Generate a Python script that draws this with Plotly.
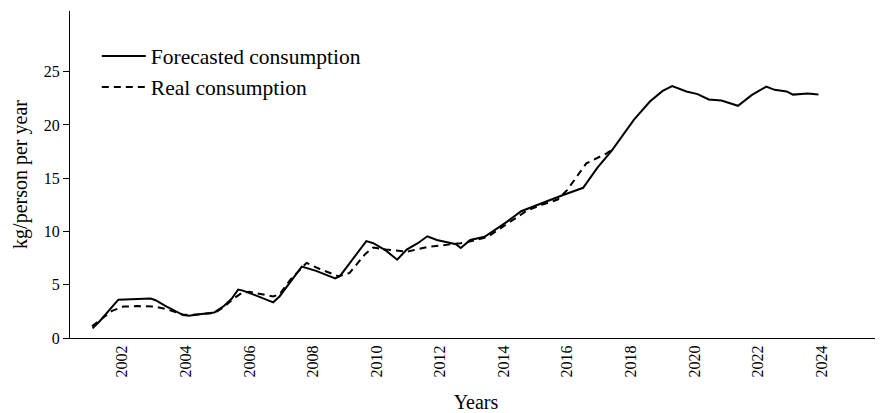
import plotly.graph_objects as go

forecast_years = [2001.07, 2001.3, 2001.88, 2002.5, 2002.9, 2003.05, 2003.4, 2003.92, 2004.1, 2004.5,
                  2004.9, 2005.2, 2005.45, 2005.65, 2005.8, 2006.2, 2006.75, 2006.95, 2007.3, 2007.65,
                  2008.1, 2008.7, 2008.85, 2009.3, 2009.68, 2009.9, 2010.3, 2010.65, 2010.95, 2011.3,
                  2011.6, 2011.9, 2012.5, 2012.65, 2012.95, 2013.4, 2013.7, 2014.1, 2014.55, 2015.15,
                  2015.6, 2015.85, 2016.5, 2016.95, 2017.4, 2017.75, 2018.1, 2018.6, 2019.0, 2019.3,
                  2019.75, 2020.1, 2020.45, 2020.85, 2021.37, 2021.8, 2022.26, 2022.52, 2022.9, 2023.1,
                  2023.57, 2023.9]
forecast_values = [0.9, 1.6, 3.6, 3.65, 3.7, 3.55, 2.95, 2.15, 2.1, 2.25,
                   2.4, 3.0, 3.7, 4.55, 4.45, 4.0, 3.35, 3.9, 5.3, 6.7,
                   6.3, 5.6, 5.8, 7.6, 9.1, 8.9, 8.2, 7.35, 8.3, 8.9,
                   9.55, 9.2, 8.8, 8.45, 9.2, 9.5, 10.1, 10.9, 11.9, 12.6,
                   13.1, 13.4, 14.1, 16.0, 17.6, 19.0, 20.5, 22.2, 23.2, 23.65,
                   23.15, 22.9, 22.4, 22.3, 21.8, 22.8, 23.6, 23.3, 23.15, 22.85,
                   22.95, 22.85]

real_years = [2001.05, 2001.4, 2001.68, 2002.04, 2002.5, 2003.03, 2003.4, 2003.9, 2004.1, 2004.5,
              2004.9, 2005.2, 2005.5, 2005.75, 2006.0, 2006.4, 2006.75, 2006.95, 2007.3, 2007.8,
              2008.2, 2008.8, 2009.15, 2009.65, 2009.9, 2010.3, 2010.95, 2011.6, 2012.65, 2013.0,
              2013.5, 2014.0, 2014.75, 2015.2, 2015.7, 2016.0, 2016.6, 2017.25, 2017.4]
real_values = [1.1, 1.9, 2.55, 2.95, 3.0, 2.95, 2.7, 2.2, 2.15, 2.25,
               2.35, 2.9, 3.7, 4.2, 4.35, 4.1, 3.9, 4.1, 5.5, 7.05,
               6.5, 5.8, 6.1, 7.9, 8.5, 8.3, 8.1, 8.55, 8.9, 9.1,
               9.5, 10.5, 12.0, 12.5, 13.0, 13.9, 16.4, 17.35, 17.65]

x_ticks = [2002, 2004, 2006, 2008, 2010, 2012, 2014, 2016, 2018, 2020, 2022, 2024]
y_ticks = [0, 5, 10, 15, 20, 25]

FONT = "Liberation Serif, Times New Roman, serif"

fig = go.Figure()
fig.add_trace(go.Scatter(x=forecast_years, y=forecast_values, mode="lines",
                         name="Forecasted consumption",
                         line=dict(color="black", width=2)))
fig.add_trace(go.Scatter(x=real_years, y=real_values, mode="lines",
                         name="Real consumption",
                         line=dict(color="black", width=2, dash="7px,5px")))

fig.update_layout(
    width=875, height=405,
    margin=dict(l=62, r=1, t=3, b=75, autoexpand=False),
    paper_bgcolor="white", plot_bgcolor="white",
    font=dict(family=FONT, color="black", size=16),
    showlegend=True,
    legend=dict(x=0.033, y=0.925, xanchor="left", yanchor="top",
                font=dict(family=FONT, size=21.5, color="black"),
                bgcolor="rgba(0,0,0,0)", itemwidth=44, tracegroupgap=0),
    xaxis=dict(range=[2000.36, 2025.9], tickvals=x_ticks, ticktext=[str(v) for v in x_ticks],
               tickangle=-90, showgrid=False, zeroline=False, showline=True,
               linecolor="black", linewidth=1, ticks="", automargin=False,
               tickfont=dict(family=FONT, size=16, color="black"),
               title=dict(text="Years", font=dict(family=FONT, size=20, color="black"), standoff=19)),
    yaxis=dict(range=[0, 30.7], tickvals=y_ticks, showgrid=False, zeroline=False, showline=True,
               linecolor="black", linewidth=1, ticks="outside", ticklen=6, tickcolor="black",
               automargin=False,
               tickfont=dict(family=FONT, size=16, color="black"),
               title=dict(text="kg/person per year", font=dict(family=FONT, size=20, color="black"),
                          standoff=10)),
)

fig.write_html("out.html")
